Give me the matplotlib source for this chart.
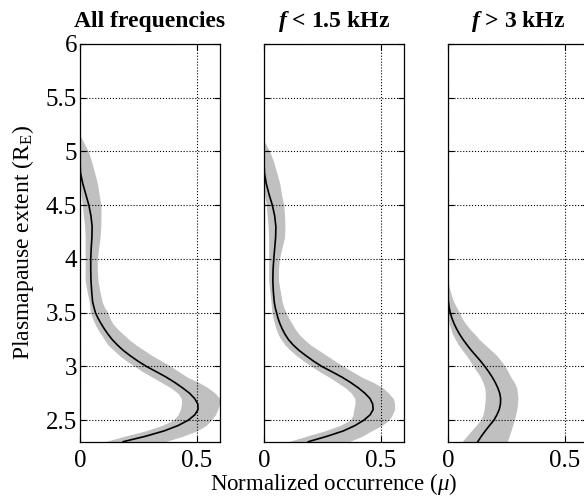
import matplotlib
matplotlib.use('Agg')
import matplotlib.pyplot as plt
import numpy as np

# 字体设置
plt.rcParams['font.family'] = ['Liberation Serif', 'DejaVu Serif']
plt.rcParams['mathtext.fontset'] = 'custom'
plt.rcParams['mathtext.rm'] = 'Liberation Serif'
plt.rcParams['mathtext.it'] = 'Liberation Serif:italic'
plt.rcParams['mathtext.bf'] = 'Liberation Serif:bold'
plt.rcParams['mathtext.bfit'] = 'Liberation Serif:bold:italic'

# 数据
titles = ['All frequencies', r'$\mathbfit{f}$ < 1.5 kHz', r'$\mathbfit{f}$ > 3 kHz']

# 纵轴采样点 (面板1, 2 共用)
y_grid = [2.30, 2.35, 2.40, 2.45, 2.50, 2.55, 2.60, 2.65, 2.70, 2.75, 2.80, 2.85, 2.90, 2.95,
          3.00, 3.05, 3.10, 3.15, 3.20, 3.25, 3.30, 3.35, 3.40, 3.45, 3.50, 3.55, 3.60,
          3.7, 3.8, 3.9, 4.0, 4.1, 4.2, 4.3, 4.4, 4.5, 4.6, 4.7, 4.8, 4.9, 5.0, 5.1, 5.15]

# 所有频率
mean_all = [0.185, 0.28, 0.36, 0.42, 0.464, 0.492, 0.506, 0.505, 0.492, 0.47, 0.44, 0.407, 0.37, 0.328,
            0.285, 0.248, 0.215, 0.185, 0.16, 0.138, 0.12, 0.104, 0.09, 0.077, 0.066, 0.06, 0.054,
            0.05, 0.047, 0.046, 0.046, 0.048, 0.051, 0.052, 0.047, 0.038, 0.025, 0.012, 0.002, 0.0, 0.0, 0.0, 0.0]
lo_all = [0.106, 0.19, 0.28, 0.35, 0.40, 0.42, 0.43, 0.435, 0.435, 0.42, 0.39, 0.35, 0.31, 0.27,
          0.235, 0.20, 0.17, 0.145, 0.12, 0.105, 0.09, 0.075, 0.063, 0.053, 0.045, 0.042, 0.04,
          0.03, 0.022, 0.022, 0.022, 0.022, 0.022, 0.02, 0.015, 0.01, 0.005, 0.0, 0.0, 0.0, 0.0, 0.0, 0.0]
hi_all = [0.364, 0.44, 0.50, 0.54, 0.563, 0.58, 0.59, 0.598, 0.60, 0.58, 0.55, 0.51, 0.46, 0.425,
          0.39, 0.35, 0.31, 0.275, 0.24, 0.21, 0.185, 0.16, 0.14, 0.128, 0.12, 0.105, 0.095,
          0.085, 0.077, 0.074, 0.074, 0.08, 0.086, 0.089, 0.09, 0.09, 0.082, 0.075, 0.063, 0.05, 0.036, 0.012, 0.0]

# f < 1.5 kHz
mean_low = [0.19, 0.27, 0.34, 0.39, 0.428, 0.455, 0.468, 0.466, 0.455, 0.433, 0.405, 0.372, 0.335, 0.292,
            0.248, 0.212, 0.18, 0.15, 0.125, 0.105, 0.09, 0.078, 0.068, 0.06, 0.054, 0.048, 0.044,
            0.04, 0.038, 0.039, 0.042, 0.046, 0.05, 0.051, 0.046, 0.036, 0.022, 0.01, 0.002, 0.0, 0.0, 0.0, 0.0]
lo_low = [0.104, 0.18, 0.26, 0.325, 0.37, 0.382, 0.385, 0.39, 0.39, 0.375, 0.35, 0.315, 0.28, 0.24,
          0.205, 0.17, 0.14, 0.113, 0.09, 0.074, 0.06, 0.052, 0.045, 0.039, 0.034, 0.032, 0.03,
          0.025, 0.02, 0.02, 0.02, 0.02, 0.02, 0.018, 0.014, 0.01, 0.003, 0.0, 0.0, 0.0, 0.0, 0.0, 0.0]
hi_low = [0.364, 0.42, 0.46, 0.505, 0.536, 0.55, 0.56, 0.56, 0.555, 0.535, 0.51, 0.47, 0.42, 0.38,
          0.342, 0.305, 0.27, 0.235, 0.20, 0.173, 0.15, 0.133, 0.12, 0.106, 0.095, 0.085, 0.078,
          0.07, 0.062, 0.062, 0.066, 0.077, 0.088, 0.09, 0.088, 0.085, 0.075, 0.068, 0.055, 0.042, 0.025, 0.0, 0.0]

# f > 3 kHz
y_high = [2.30, 2.35, 2.40, 2.45, 2.50, 2.55, 2.60, 2.65, 2.70, 2.75, 2.80, 2.85, 2.90, 2.95,
          3.00, 3.05, 3.10, 3.15, 3.20, 3.25, 3.30, 3.35, 3.40, 3.45, 3.50, 3.55, 3.60,
          3.65, 3.70, 3.75, 3.80]
mean_high = [0.128, 0.143, 0.16, 0.178, 0.197, 0.21, 0.22, 0.225, 0.226, 0.222, 0.214, 0.203, 0.19, 0.175,
             0.158, 0.14, 0.12, 0.10, 0.082, 0.065, 0.05, 0.037, 0.026, 0.017, 0.01, 0.005, 0.002,
             0.0, 0.0, 0.0, 0.0]
lo_high = [0.06, 0.08, 0.10, 0.12, 0.14, 0.15, 0.155, 0.158, 0.16, 0.16, 0.158, 0.15, 0.14, 0.125,
           0.11, 0.095, 0.08, 0.062, 0.045, 0.032, 0.02, 0.012, 0.005, 0.002, 0.0, 0.0, 0.0,
           0.0, 0.0, 0.0, 0.0]
hi_high = [0.255, 0.262, 0.27, 0.277, 0.284, 0.29, 0.295, 0.298, 0.30, 0.298, 0.295, 0.285, 0.27, 0.258,
           0.245, 0.228, 0.21, 0.185, 0.16, 0.135, 0.115, 0.093, 0.075, 0.06, 0.05, 0.037, 0.025,
           0.017, 0.01, 0.004, 0.0]

ys = [y_grid, y_grid, y_high]
means = [mean_all, mean_low, mean_high]
los = [lo_all, lo_low, lo_high]
his = [hi_all, hi_low, hi_high]

yticks = [2.5, 3, 3.5, 4, 4.5, 5, 5.5, 6]
ytick_labels = ['2.5', '3', '3.5', '4', '4.5', '5', '5.5', '6']
xticks = [0, 0.5]
xtick_labels = ['0', '0.5']

fig = plt.figure(figsize=(5.84, 4.96), dpi=100)
lefts = [0.137, 0.452, 0.767]
axes = []
for i in range(3):
    ax = fig.add_axes([lefts[i], 0.1095, 0.2397, 0.8018])
    y = np.array(ys[i])
    m = np.array(means[i])
    # 置信带
    ax.fill_betweenx(y, los[i], his[i], color='#c0c0c0', lw=0, zorder=1)
    # 平均曲线 (只画非零部分)
    keep = np.r_[True, m[:-1] > 0]
    ax.plot(m[keep], y[keep], color='black', lw=1.2, zorder=3)
    ax.set_xlim(0, 0.6)
    ax.set_ylim(2.3, 6)
    ax.set_xticks(xticks)
    ax.set_xticklabels(xtick_labels)
    ax.set_yticks(yticks)
    if i == 0:
        ax.set_yticklabels(ytick_labels)
    else:
        ax.set_yticklabels([])
    ax.tick_params(direction='in', top=True, right=True, length=4, width=0.8,
                   labelsize=18)
    ax.tick_params(axis='x', pad=6)
    ax.tick_params(axis='y', pad=2)
    ax.grid(True, linestyle=':', color='black', lw=0.8)
    ax.set_axisbelow(False)
    for s in ax.spines.values():
        s.set_linewidth(0.9)
    ax.set_title(titles[i], fontsize=17, fontweight='bold', pad=12)
    axes.append(ax)

axes[0].set_ylabel(r'Plasmapause extent (R$_\mathrm{E}$)', fontsize=17)
axes[0].yaxis.set_label_coords(-0.315, 0.5)
axes[1].set_xlabel(r'Normalized occurrence ($\mu$)', fontsize=16.5, labelpad=-1)

fig.savefig('out.png', dpi=100)
